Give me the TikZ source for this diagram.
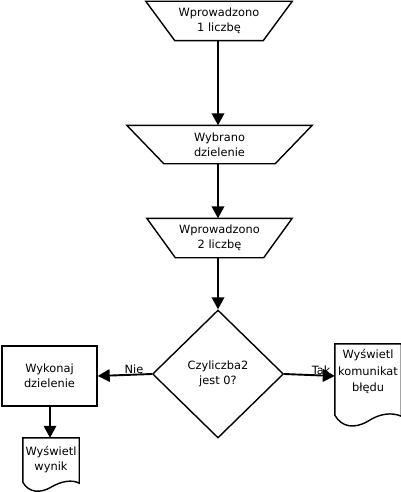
\documentclass[tikz,border=0pt]{standalone}
\usepackage{fontspec}
\setmainfont{DejaVu Sans}
\usetikzlibrary{shapes.geometric,arrows.meta,calc}
\begin{document}
\begin{tikzpicture}[x=1pt,y=-1pt,
  txt/.style={font=\fontsize{11.4}{15}\selectfont, align=center, inner sep=0pt},
  outl/.style={line width=1.4pt, line join=miter},
  arr/.style={line width=1.9pt, -{Triangle[length=12pt,width=12.5pt]}},
]
\useasboundingbox (0,0) rectangle (400,492);

% input trapezia
\node[txt, minimum width=146pt, minimum height=39pt] (in1) at (219,21) {Wprowadzono\\1 liczbę};
\draw[outl] (in1.north west) -- (in1.north east) -- ([xshift=-29pt]in1.south east) -- ([xshift=29pt]in1.south west) -- cycle;

\node[txt, minimum width=185pt, minimum height=38pt] (in2) at (219.5,144.5) {Wybrano\\dzielenie};
\draw[outl] (in2.north west) -- (in2.north east) -- ([xshift=-37pt]in2.south east) -- ([xshift=37pt]in2.south west) -- cycle;

\node[txt, minimum width=145pt, minimum height=39pt] (in3) at (219.5,238) {Wprowadzono\\2 liczbę};
\draw[outl] (in3.north west) -- (in3.north east) -- ([xshift=-28.5pt]in3.south east) -- ([xshift=28.5pt]in3.south west) -- cycle;

% decision
\node[txt, draw, outl, diamond, minimum width=131pt, minimum height=128pt] (dec) at (218,374) {Czyliczba2\\jest 0?};

% process
\node[txt, draw, outl, minimum width=95pt, minimum height=60pt] (proc) at (49.5,376) {Wykonaj\\dzielenie};

% documents
\node[txt, minimum width=56pt, minimum height=44pt] (out1) at (51,460) {Wyświetl\\wynik};
\draw[outl] (out1.north west) -- (out1.north east) -- ($(out1.south east)+(0,1)$)
  .. controls +(-7,-4) and +(10,-6) .. ($(out1.south)+(0,5)$)
  .. controls +(-10,6) and +(6,11) .. ($(out1.south west)+(0,0)$) -- cycle;

\node[txt, minimum width=66pt, minimum height=56pt, font=\fontsize{11.4}{16.5}\selectfont] (out2) at (368,372) {Wyświetl\\komunikat\\błędu};
\draw[outl] (out2.north west) -- (out2.north east) -- ($(out2.south east)+(0,16)$)
  .. controls +(-9,-4) and +(12,-8) .. ($(out2.south)+(0,21)$)
  .. controls +(-14,8) and +(7,12) .. ($(out2.south west)+(0,15)$) -- cycle;

% labels
\path (dec.west) -- (proc.east) node[txt, pos=0.33, anchor=base, yshift=1pt] (nie) {Nie};
\path (dec.east) -- ([yshift=-4pt]out2.west) node[txt, pos=0.73, anchor=base, yshift=1pt] (tak) {Tak};

% connectors
\draw[arr] (dec.north |- in1.south) -- (dec.north |- in2.north);
\draw[arr] (dec.north |- in2.south) -- (dec.north |- in3.north);
\draw[arr] (dec.north |- in3.south) -- (dec.north);
\draw[arr] (dec.west) -- (proc.east);
\draw[arr] (dec.east) -- ([yshift=-4pt]out2.west);
\draw[arr] ([xshift=0.5pt]proc.south) -- ([xshift=0.5pt]proc.south |- out1.north);
\end{tikzpicture}
\end{document}
